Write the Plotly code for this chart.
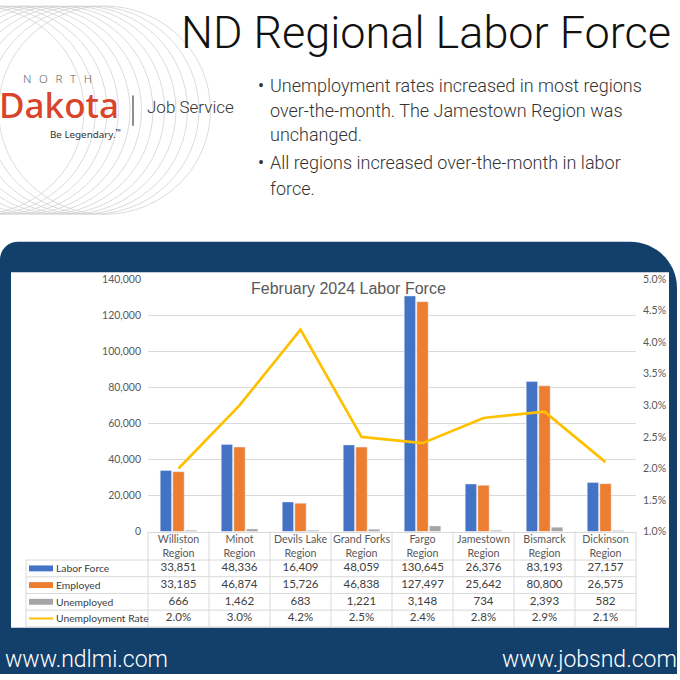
import plotly.graph_objects as go

# ---------------- data ----------------
regions = ["Williston", "Minot", "Devils Lake", "Grand Forks", "Fargo", "Jamestown", "Bismarck", "Dickinson"]
region_suffix = "Region"
labor_force = [33851, 48336, 16409, 48059, 130645, 26376, 83193, 27157]
employed = [33185, 46874, 15726, 46838, 127497, 25642, 80800, 26575]
unemployed = [666, 1462, 683, 1221, 3148, 734, 2393, 582]
unemp_rate = [2.0, 3.0, 4.2, 2.5, 2.4, 2.8, 2.9, 2.1]
series_names = ["Labor Force", "Employed", "Unemployed", "Unemployment Rate"]
left_ticks = [0, 20000, 40000, 60000, 80000, 100000, 120000, 140000]
right_ticks = [1.0, 1.5, 2.0, 2.5, 3.0, 3.5, 4.0, 4.5, 5.0]

title_text = "ND Regional Labor Force"
chart_title = "February 2024 Labor Force"
bullets = [
    ["Unemployment rates increased in most regions", "over-the-month. The Jamestown Region was", "unchanged."],
    ["All regions increased over-the-month in labor", "force."],
]
footer_left = "www.ndlmi.com"
footer_right = "www.jobsnd.com"

# ---------------- styling ----------------
W = H = 680
BLUE, ORANGE, GRAY, GOLD = "#4472c4", "#ed7d31", "#a5a5a5", "#ffc000"
NAVY = "#133f6b"
GRID = "#d9d9d9"
AX_TXT = "#595959"
THIN = "Roboto, sans-serif"
CAL = "Lato, Open Sans, sans-serif"


def X(p):
    return p / W


def Y(p):
    return 1 - p / H


plot_l, plot_r = 148, 636
plot_b, plot_t = 535, 278
tbl_top, tbl_bot = 564, 632
tbl_left = 26
n = len(regions)
colw = (plot_r - plot_l) / n
rowh = (tbl_bot - tbl_top) / 4

cat_labels = [f"{r}<br>{region_suffix}" for r in regions]

fig = go.Figure()

fig.add_bar(x=cat_labels, y=labor_force, name=series_names[0], marker_color=BLUE, showlegend=False)
fig.add_bar(x=cat_labels, y=employed, name=series_names[1], marker_color=ORANGE, showlegend=False)
fig.add_bar(x=cat_labels, y=unemployed, name=series_names[2], marker_color=GRAY, showlegend=False)
fig.add_scatter(x=cat_labels, y=unemp_rate, name=series_names[3], mode="lines",
                line=dict(color=GOLD, width=2.7), yaxis="y2", showlegend=False)

# data table rows drawn as text through x axis + hidden row axis
rows = [
    [f"{v:,}" for v in labor_force],
    [f"{v:,}" for v in employed],
    [f"{v:,}" for v in unemployed],
    [f"{v:.1f}%" for v in unemp_rate],
]
for i, r in enumerate(rows):
    fig.add_scatter(x=cat_labels, y=[i + 0.5] * n, text=r, mode="text", yaxis="y3",
                    textfont=dict(family=CAL, size=11.5, color="#404040"),
                    hoverinfo="skip", showlegend=False, cliponaxis=False)

shapes = []
# decorative circles in header
for k in range(12):
    cx = -22 + k * 11.5
    r = 106
    shapes.append(dict(type="circle", xref="paper", yref="paper", layer="below",
                       x0=X(cx - r), x1=X(cx + r), y0=Y(106 + r), y1=Y(106 - r),
                       line=dict(color="#d2d2d2", width=0.8)))
# navy panel with rounded top corners
r1, r2 = 18, 47
k = 0.5523
top = 240
right = 677
path = (f"M {X(0)},{Y(680)} L {X(0)},{Y(top + r1)} "
        f"C {X(0)},{Y(top + r1 - k * r1)} {X(r1 - k * r1)},{Y(top)} {X(r1)},{Y(top)} "
        f"L {X(right - r2)},{Y(top)} "
        f"C {X(right - r2 + k * r2)},{Y(top)} {X(right)},{Y(top + r2 - k * r2)} {X(right)},{Y(top + r2)} "
        f"L {X(right)},{Y(680)} Z")
shapes.append(dict(type="path", path=path, xref="paper", yref="paper", layer="below",
                   fillcolor=NAVY, line=dict(width=0)))
shapes.append(dict(type="rect", xref="paper", yref="paper", layer="below",
                   x0=X(11), x1=X(669), y0=Y(633), y1=Y(271), fillcolor="white", line=dict(width=0)))
# logo separator
shapes.append(dict(type="line", xref="paper", yref="paper", x0=X(133), x1=X(133), y0=Y(91), y1=Y(122),
                   line=dict(color="#444", width=1.2)))
# table grid
for j in range(5):
    yy = tbl_top + j * rowh
    shapes.append(dict(type="line", xref="paper", yref="paper", x0=X(tbl_left), x1=X(plot_r),
                       y0=Y(yy), y1=Y(yy), line=dict(color=GRID, width=1)))
shapes.append(dict(type="line", xref="paper", yref="paper", x0=X(tbl_left), x1=X(tbl_left),
                   y0=Y(tbl_top), y1=Y(tbl_bot), line=dict(color=GRID, width=1)))
for j in range(n + 1):
    xx = plot_l + j * colw
    shapes.append(dict(type="line", xref="paper", yref="paper", x0=X(xx), x1=X(xx),
                       y0=Y(plot_b), y1=Y(tbl_bot), line=dict(color=GRID, width=1)))
# legend keys in table
key_colors = [BLUE, ORANGE, GRAY]
for i, c in enumerate(key_colors):
    yc = tbl_top + (i + 0.5) * rowh
    shapes.append(dict(type="rect", xref="paper", yref="paper", x0=X(29), x1=X(53),
                       y0=Y(yc + 3), y1=Y(yc - 3), fillcolor=c, line=dict(width=0)))
yc = tbl_top + 3.5 * rowh
shapes.append(dict(type="line", xref="paper", yref="paper", x0=X(29), x1=X(53),
                   y0=Y(yc), y1=Y(yc), line=dict(color=GOLD, width=2)))

ann = []
for i, nm in enumerate(series_names):
    ann.append(dict(text=nm, x=X(54), y=Y(tbl_top + (i + 0.5) * rowh), xref="paper", yref="paper",
                    xanchor="left", yanchor="middle", showarrow=False,
                    font=dict(family=CAL, size=10.3, color="#404040")))
ann.append(dict(text=chart_title, x=X(348), y=Y(288), xref="paper", yref="paper", showarrow=False,
                xanchor="center", yanchor="middle",
                font=dict(family="Liberation Sans, Arial", size=16, color=AX_TXT)))
ann.append(dict(text=title_text, x=X(426), y=Y(27), xref="paper", yref="paper", showarrow=False,
                xanchor="center", yanchor="middle",
                font=dict(family=THIN, size=45, color="#111", weight=300)))
# bullets
line_y = [81, 106, 131, 159, 186]
li = 0
for b in bullets:
    for j, t in enumerate(b):
        if j == 0:
            ann.append(dict(text="•", x=X(256), y=Y(line_y[li]), xref="paper", yref="paper",
                            showarrow=False, xanchor="left", yanchor="middle",
                            font=dict(family=THIN, size=18, color="#333")))
        ann.append(dict(text=t, x=X(268), y=Y(line_y[li]), xref="paper", yref="paper",
                        showarrow=False, xanchor="left", yanchor="middle",
                        font=dict(family=THIN, size=18, color="#333", weight=300)))
        li += 1
# logo text
sp = "\u2002\u2009"
ann.append(dict(text=sp.join("NORTH"), x=X(21), y=Y(74), xref="paper", yref="paper", showarrow=False,
                xanchor="left", yanchor="middle",
                font=dict(family="Noto Sans", size=11.5, color="#666", weight=300)))
ann.append(dict(text="Dakota", x=X(-3), y=Y(100), xref="paper", yref="paper", showarrow=False,
                xanchor="left", yanchor="middle",
                font=dict(family="Noto Sans", size=35, color="#d9452b", weight=500)))
ann.append(dict(text="Job Service", x=X(145), y=Y(103), xref="paper", yref="paper", showarrow=False,
                xanchor="left", yanchor="middle", font=dict(family=THIN, size=17, color="#333", weight=300)))
ann.append(dict(text="Be Legendary.<sup>™</sup>", x=X(48), y=Y(130), xref="paper", yref="paper",
                showarrow=False, xanchor="left", yanchor="middle",
                font=dict(family="Noto Sans", size=9.8, color="#333")))
# footer
ann.append(dict(text=footer_left, x=X(3), y=Y(665), xref="paper", yref="paper", showarrow=False,
                xanchor="left", yanchor="middle", font=dict(family=THIN, size=23, color="white", weight=300)))
ann.append(dict(text=footer_right, x=X(679), y=Y(665), xref="paper", yref="paper", showarrow=False,
                xanchor="right", yanchor="middle", font=dict(family=THIN, size=23, color="white", weight=300)))

fig.update_layout(
    width=W, height=H, autosize=False,
    margin=dict(l=0, r=0, t=0, b=0),
    paper_bgcolor="white", plot_bgcolor="rgba(0,0,0,0)",
    barmode="group", bargap=0.38, bargroupgap=0.1,
    shapes=shapes, annotations=ann,
    xaxis=dict(domain=[X(plot_l), X(plot_r)], anchor="y", showgrid=False, showline=True,
               linecolor=GRID, linewidth=1, ticks="", tickfont=dict(family=CAL, size=10.7, color=AX_TXT),
               tickangle=0, fixedrange=True, ticklabelstandoff=-2),
    yaxis=dict(domain=[Y(plot_b), Y(plot_t)], range=[0, 140000], tickvals=left_ticks,
               tickformat=",", showgrid=True, gridcolor=GRID, zeroline=False, showline=False,
               ticklabelstandoff=6, tickfont=dict(family=CAL, size=10.5, color=AX_TXT)),
    yaxis2=dict(overlaying="y", side="right", range=[1.0, 5.0], tickvals=right_ticks,
                ticktext=[f"{v:.1f}%" for v in right_ticks], showgrid=False, zeroline=False,
                showline=False, ticklabelstandoff=6, tickfont=dict(family=CAL, size=10.5, color=AX_TXT)),
    yaxis3=dict(domain=[Y(tbl_bot), Y(tbl_top)], range=[4, 0], anchor="x", visible=False),
    showlegend=False,
)

fig.write_html("out.html", config={"displayModeBar": False},
               post_script="document.body.style.margin='0';document.body.style.overflow='hidden';")
